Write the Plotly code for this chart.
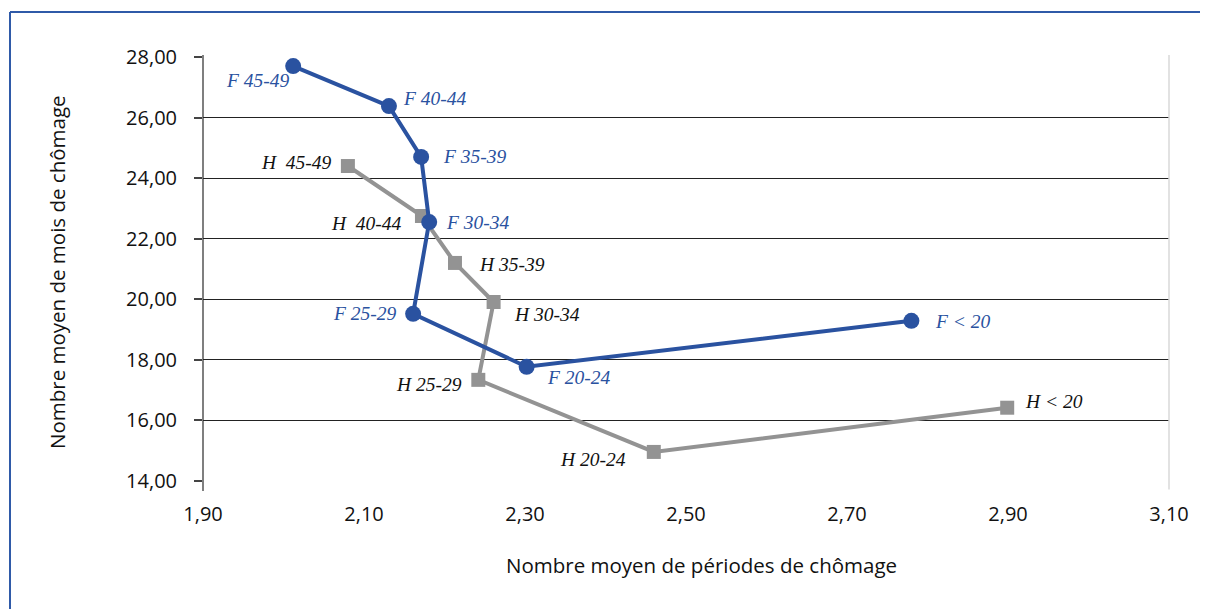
import plotly.graph_objects as go

f_labels = ["F 45-49", "F 40-44", "F 35-39", "F 30-34", "F 25-29", "F 20-24", "F < 20"]
f_x = [2.012, 2.131, 2.171, 2.181, 2.161, 2.302, 2.780]
f_y = [27.70, 26.38, 24.70, 22.55, 19.52, 17.77, 19.29]

h_labels = ["H \u00a045-49", "H \u00a040-44", "H 35-39", "H 30-34", "H 25-29", "H 20-24", "H < 20"]
h_x = [2.080, 2.172, 2.213, 2.261, 2.242, 2.460, 2.899]
h_y = [24.40, 22.75, 21.20, 19.91, 17.34, 14.96, 16.42]

x_ticks = [1.9, 2.1, 2.3, 2.5, 2.7, 2.9, 3.1]
y_ticks = [14, 16, 18, 20, 22, 24, 26, 28]

x_title = "Nombre moyen de périodes de chômage"
y_title = "Nombre moyen de mois de chômage"

BLUE = "#2a52a0"
GRAY = "#939393"

# label offsets in pixels (dx, dy) and anchors
f_off = [(-35, -14, "center"), (12, 8, "left"), (20, 0, "left"), (15, 0, "left"),
         (-14, 0, "right"), (18, -11, "left"), (22, -1, "left")]
h_off = [(-14, 4, "right"), (-18, -7, "right"), (22, -2, "left"), (18, -12, "left"),
         (-14, -5, "right"), (-26, -8, "right"), (16, 6, "left")]

fig = go.Figure()
fig.add_trace(go.Scatter(x=h_x, y=h_y, mode="lines+markers",
                         line=dict(color=GRAY, width=4),
                         marker=dict(symbol="square", size=14, color=GRAY),
                         showlegend=False))
fig.add_trace(go.Scatter(x=f_x, y=f_y, mode="lines+markers",
                         line=dict(color=BLUE, width=4),
                         marker=dict(symbol="circle", size=16, color=BLUE),
                         showlegend=False))

OFF = 8  # page offset of the figure in the screenshot
L, R, T, B = 195, 47, 49, 136
W, H = 1208, 609
pw, ph = W - L - R, H - T - B

def px(xs):
    return (xs - OFF - L) / pw

def py(ys):
    return (H - B - (ys - OFF)) / ph

ann = []
for lab, x, y, (dx, dy, al) in zip(f_labels, f_x, f_y, f_off):
    ann.append(dict(x=x, y=y, text=lab, showarrow=False, xshift=dx, yshift=dy,
                    xanchor=al, yanchor="middle",
                    font=dict(family="Liberation Serif", size=19.5, color=BLUE, style="italic")))
for lab, x, y, (dx, dy, al) in zip(h_labels, h_x, h_y, h_off):
    ann.append(dict(x=x, y=y, text=lab, showarrow=False, xshift=dx, yshift=dy,
                    xanchor=al, yanchor="middle",
                    font=dict(family="Liberation Serif", size=19.5, color="#111111", style="italic")))
ann.append(dict(xref="paper", yref="paper", x=px(701), y=py(565), text=x_title,
                showarrow=False, xanchor="center", yanchor="middle",
                font=dict(family="Open Sans", size=20.5, color="#111111")))
ann.append(dict(xref="paper", yref="paper", x=px(57), y=py(272), text=y_title,
                showarrow=False, xanchor="center", yanchor="middle", textangle=-90,
                font=dict(family="Open Sans", size=20.5, color="#111111")))

shapes = [
    dict(type="line", xref="paper", yref="paper", x0=px(10), x1=px(1230), y0=py(12), y1=py(12),
         line=dict(color="#2f5aa8", width=2)),
    dict(type="line", xref="paper", yref="paper", x0=px(10), x1=px(10), y0=py(12), y1=py(640),
         line=dict(color="#2f5aa8", width=2)),
    dict(type="line", xref="paper", yref="paper", x0=1, x1=1, y0=-0.02, y1=1.005,
         line=dict(color="#d9d9d9", width=1.5)),
    dict(type="line", xref="paper", yref="paper", x0=0, x1=0, y0=py(491), y1=py(55),
         line=dict(color="#555555", width=1.5), layer="below"),
]

fig.update_layout(
    width=W, height=H,
    margin=dict(l=L, r=R, t=T, b=B),
    paper_bgcolor="white", plot_bgcolor="white",
    separators=", ",
    font=dict(family="Open Sans", size=20, color="#111111"),
    annotations=ann,
    shapes=shapes,
    xaxis=dict(range=[1.9, 3.1], tickvals=x_ticks, tickformat=".2f",
               showgrid=False, zeroline=False, showline=False,
               ticks="outside", ticklen=15, tickcolor="rgba(0,0,0,0)"),
    yaxis=dict(range=[14, 28], tickvals=y_ticks, tickformat=".2f",
               showgrid=True, gridcolor="#222222", gridwidth=1.2,
               zeroline=False, showline=False,
               ticks="outside", ticklen=8, tickcolor="#444444", tickwidth=1.5,
               ticklabelstandoff=13),
)

fig.write_html("out.html")
